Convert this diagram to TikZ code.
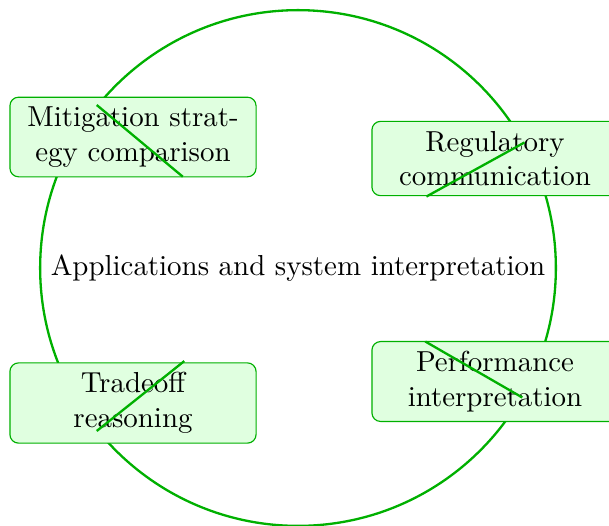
\documentclass[tikz,border=0pt]{standalone}
\usetikzlibrary{calc}
\definecolor{leaf}{RGB}{0,176,0}
\tikzset{
  x=0.346pt, y=0.346pt,
  hub/.style={circle, draw=leaf, thick},
  topic/.style={rectangle, rounded corners=3pt, draw=leaf, fill=green!12,
    text width=78.5pt, align=center},
  link/.style={draw=leaf, thick},
}
\begin{document}
\begin{tikzpicture}
  \useasboundingbox (-298,-257) rectangle (311,268);
  % central hub carrying the theme
  \node[hub] (hub) at (0,0) {Applications and system interpretation};

  % application topics around the hub
  \node[topic] (mit) at (-165,131)   {Mitigation strategy comparison};
  \node[topic] (reg) at (197,109.5)  {Regulatory communication};
  \node[topic] (tra) at (-165,-135)  {Tradeoff reasoning};
  \node[topic] (per) at (197,-113.5) {Performance interpretation};

  % inner ends of the spokes
  \coordinate (mit-in) at (141.6:147);
  \coordinate (reg-in) at (29.1:147);
  \coordinate (tra-in) at (219.3:147);
  \coordinate (per-in) at (330.0:147);

  % spokes from the hub rim through each topic
  \draw[link] (hub.141.6) -- (mit-in);
  \draw[link] (hub.29.1)  -- (reg-in);
  \draw[link] (hub.219.3) -- (tra-in);
  \draw[link] (hub.330.0) -- (per-in);
\end{tikzpicture}
\end{document}
